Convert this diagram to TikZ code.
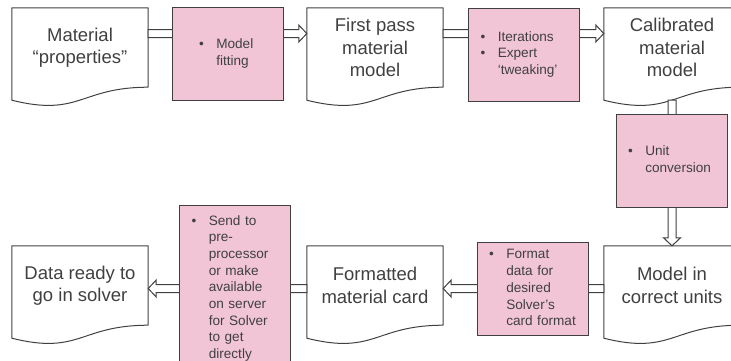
\documentclass[tikz,border=0pt]{standalone}
\usepackage{fontspec}
\setmainfont{Liberation Sans}
\usetikzlibrary{calc}

\definecolor{boxpink}{RGB}{242,197,214}
\definecolor{linegray}{RGB}{64,64,64}
\definecolor{txtgray}{RGB}{64,64,64}

\newcommand\blist[1]{\begin{tabular}{@{}l@{\hspace{12.5pt}}l@{}}#1\end{tabular}}

\tikzset{
  doc/.style={minimum width=136pt, minimum height=79pt, inner sep=0pt, align=center,
    text=txtgray, font=\fontsize{18.5}{22.5}\selectfont},
  docline/.style={draw=linegray, line width=1pt, line join=round},
  task/.style={draw=linegray, line width=1pt, fill=boxpink, minimum width=111pt,
    minimum height=93pt, inner sep=0pt, text width=87pt, align=left, text=txtgray,
    font=\fontsize{13.6}{16.7}\selectfont},
  hollow/.style={draw=linegray, line width=1pt, fill=white, line join=miter,
    to path={let \p1=($(\tikztotarget)!8pt!(\tikztostart)$) in
      ($(\tikztostart)!4pt!90:(\tikztotarget)$) -- ($(\p1)!4pt!90:(\tikztotarget)$)
      -- ($(\p1)!8.5pt!90:(\tikztotarget)$) -- (\tikztotarget)
      -- ($(\p1)!8.5pt!-90:(\tikztotarget)$) -- ($(\p1)!4pt!-90:(\tikztotarget)$)
      -- ($(\tikztostart)!4pt!-90:(\tikztotarget)$) -- cycle}}
}

\begin{document}
\begin{tikzpicture}[x=1pt,y=-1pt]
  \useasboundingbox (0,0) rectangle (731,360);

  % documents
  \node[doc] (props) at (80,47.5) {Material\\“properties”};
  \node[doc] (first) at (375,47.5) {First pass\\material\\model};
  \node[doc] (calib) at (672,47.5) {Calibrated\\material\\model};
  \node[doc] (units) at (672,285.5) {Model in\\correct units};
  \node[doc] (card) at (375,285.5) {Formatted\\material card};
  \node[doc] (ready) at (80,285.5) {Data ready to\\go in solver};

  \foreach \n in {props,first,calib,units,card,ready}
    \draw[docline] (\n.north west) -- (\n.north east) -- (\n.south east)
      .. controls (\n.south) and ([yshift=-30pt]\n.south) .. ([yshift=-13pt]\n.south west) -- cycle;

  % arrows
  \coordinate (a1) at ([yshift=14pt]props.east);
  \coordinate (a2) at ([yshift=14pt]first.west);
  \coordinate (a3) at ([yshift=14pt]first.east);
  \coordinate (a4) at ([yshift=14pt]calib.west);
  \coordinate (a5) at ([yshift=-13pt]calib.south);
  \coordinate (b1) at ([yshift=-3pt]units.west);
  \coordinate (b2) at ([yshift=-3pt]card.east);
  \coordinate (b3) at ([yshift=-3pt]card.west);
  \coordinate (b4) at ([yshift=-3pt]ready.east);
  \draw[hollow] (a1) to (a2);
  \draw[hollow] (a3) to (a4);
  \draw[hollow] (a5) to (units.north);
  \draw[hollow] (b1) to (b2);
  \draw[hollow] (b3) to (b4);

  % steps
  \node[task, text width=57pt] (fit) at (227.5,53.5) {\blist{\textbullet & Model\\ & fitting}};
  \node[task] (tweak) at (524,54.5) {\blist{\textbullet & Iterations\\ \textbullet & Expert\\ & ‘tweaking’}};
  \node[task] (conv) at (671.5,161) {\blist{\textbullet & Unit\\ & conversion}};
  \node[task] (fmt) at (532.5,289) {\blist{\textbullet & Format\\ & data for\\ & desired\\ & Solver’s\\ & card format}};
  \node[task, minimum height=166pt] (send) at (235,288.5) {\blist{\textbullet & Send to\\ & pre-\\ & processor\\ & or make\\ & available\\ & on server\\ & for Solver\\ & to get\\ & directly}};
\end{tikzpicture}
\end{document}
